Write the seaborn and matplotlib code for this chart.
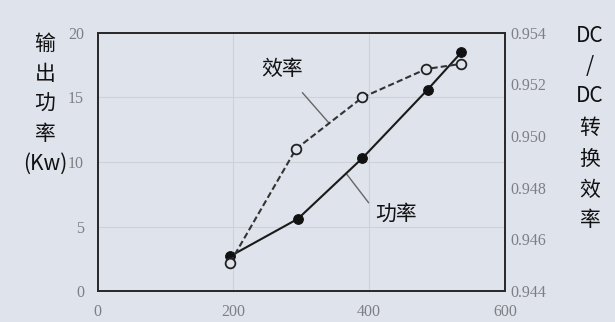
import numpy as np
import pandas as pd
import matplotlib
matplotlib.use("Agg")
import matplotlib.pyplot as plt
import seaborn as sns

sns.set_theme(style="white")
plt.rcParams['font.family'] = ['Noto Sans CJK SC', 'DejaVu Sans']

# Measured operating points
voltage = [195, 295, 390, 486, 536]
power_kw = [2.7, 5.6, 10.3, 15.6, 18.5]
eff_x = [195, 292, 390, 484, 536]
efficiency = [0.9451, 0.9495, 0.9515, 0.9526, 0.9528]

x_ticks = [0, 200, 400, 600]
left_ticks = [0, 5, 10, 15, 20]
right_ticks = [0.944, 0.946, 0.948, 0.950, 0.952, 0.954]

bg = '#dfe3ec'
fig = plt.figure(figsize=(6.15, 3.22), dpi=100, facecolor=bg)
ax = fig.add_axes([0.159, 0.096, 0.662, 0.802], facecolor=bg)

df_p = pd.DataFrame({'x': voltage, 'y': power_kw})
df_e = pd.DataFrame({'x': eff_x, 'y': efficiency})

sns.lineplot(data=df_p, x='x', y='y', ax=ax, color='#1a1a1a', lw=1.5,
             marker='o', markersize=7, markerfacecolor='#111111',
             markeredgecolor='#111111', zorder=4)
ax.set_xlim(0, 600)
ax.set_ylim(0, 20)
ax.set_xticks(x_ticks)
ax.set_yticks(left_ticks)
for v in [200, 400]:
    ax.axvline(v, color='#cdd1d8', lw=0.8, zorder=0)
for v in [5, 10, 15]:
    ax.axhline(v, color='#cdd1d8', lw=0.8, zorder=0)

ax2 = ax.twinx()
sns.lineplot(data=df_e, x='x', y='y', ax=ax2, color='#333333', lw=1.5,
             linestyle=(0, (3, 1.5)), marker='o', markersize=7,
             markerfacecolor=bg, markeredgecolor='#222222',
             markeredgewidth=1.3, zorder=4)
ax2.set_ylim(0.944, 0.954)
ax2.set_yticks(right_ticks)
ax2.set_yticklabels([f"{t:.3f}" for t in right_ticks])

for a in (ax, ax2):
    a.set_xlabel('')
    a.set_ylabel('')
    for s in a.spines.values():
        s.set_color('#2a2a2a')
        s.set_linewidth(1.3)
    a.tick_params(length=0, labelsize=11.5, labelcolor='#7d7f85')
    for lbl in a.get_xticklabels() + a.get_yticklabels():
        lbl.set_fontfamily('Liberation Serif')
ax.tick_params(axis='x', pad=9)
ax.tick_params(axis='y', pad=10)
ax2.tick_params(axis='y', pad=4)

# Leader-line labels
ex = 341
ey = np.interp(ex, eff_x, efficiency)
ax2.annotate('效率', xy=(ex, ey), xycoords='data',
             xytext=(271, 17.2), textcoords=ax.transData,
             ha='center', va='center', fontsize=15, color='#111111',
             arrowprops=dict(arrowstyle='-', color='#666666', lw=1.0,
                             shrinkA=9, shrinkB=0))
px = 366
py = np.interp(px, voltage, power_kw)
ax.annotate('功率', xy=(px, py), xytext=(409, 6.0),
            ha='left', va='center', fontsize=15, color='#111111',
            arrowprops=dict(arrowstyle='-', color='#666666', lw=1.0,
                            shrinkA=4, shrinkB=0, relpos=(0, 0.6)))

# Stacked axis titles
left_lines = ['输', '出', '功', '率', '(Kw)']
for i, t in enumerate(left_lines):
    fig.text(45 / 615, 1 - (44 + i * 30) / 322, t, ha='center', va='center',
             fontsize=15, color='#111111')
right_lines = ['DC', '/', 'DC', '转', '换', '效', '率']
right_y = [36, 66, 96, 128, 159, 190, 220]
for t, yy in zip(right_lines, right_y):
    fig.text(590 / 615, 1 - yy / 322, t, ha='center', va='center',
             fontsize=15, color='#111111')

fig.savefig('out.png', dpi=100, facecolor=bg)
